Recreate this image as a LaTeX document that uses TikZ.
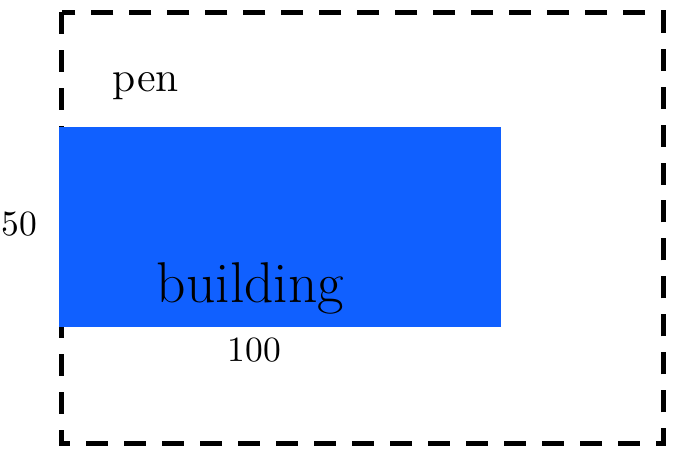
\documentclass[tikz,border=0pt]{standalone}
\usepackage{tikz}
\usetikzlibrary{positioning}
\definecolor{BuildBlue}{RGB}{16,96,255}

\begin{document}
\begin{tikzpicture}[x=0.2817pt, y=-0.2817pt]
			\tikzstyle{Pen}		= [draw=black, line width=1.4pt, dash pattern=on 6.2pt off 4.5pt]
			\tikzstyle{Building}	= [fill=BuildBlue, draw=none, inner sep=0pt, anchor=north west, minimum width=442*0.2817pt, minimum height=200*0.2817pt]
			\tikzstyle{Label}	= [inner sep=0pt, anchor=base]

			\useasboundingbox (0,0) rectangle (694,460);

			\draw [Pen] (61.5,12.5) rectangle (663,443.5);
			\node (bldg) at (58.7,126.7) [Building] {};

			\node (pen) at (146,92) [Label] {\large pen};
			\node (height) at (19.5,236) [Label] {50};
			\node (width) at (254.5,362) [Label] {100};
			\node (name) at (250.5,303) [Label] {\fontsize{16.2}{19}\selectfont building};
		\end{tikzpicture}
\end{document}
